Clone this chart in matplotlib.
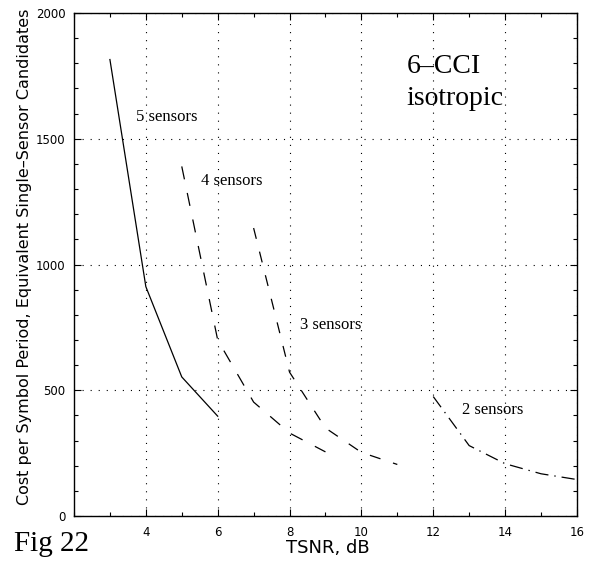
import matplotlib.pyplot as plt
from matplotlib.ticker import MultipleLocator

plt.rcParams['lines.scale_dashes'] = False

# TSNR (dB) and cost values
tsnr_5 = [3, 4, 5, 6]
cost_5 = [1815, 912, 553, 397]

tsnr_4 = [5, 6, 7, 8, 9]
cost_4 = [1390, 700, 453, 330, 255]

tsnr_3 = [7, 8, 9, 10, 11]
cost_3 = [1145, 572, 350, 253, 205]

tsnr_2 = [12, 13, 14, 15, 16]
cost_2 = [475, 280, 208, 168, 145]

xticks = [4, 6, 8, 10, 12, 14, 16]
yticks = [0, 500, 1000, 1500, 2000]

fig = plt.figure(figsize=(5.91, 5.70), dpi=100)
ax = fig.add_axes([0.1252, 0.0947, 0.851, 0.8825])

ax.plot(tsnr_5, cost_5, color="black", lw=0.9, ls="-")
ax.plot(tsnr_4, cost_4, color="black", lw=0.9, ls=(0, (9.5, 10)))
ax.plot(tsnr_3, cost_3, color="black", lw=0.9, ls=(0, (8, 9.5)))
ax.plot(tsnr_2, cost_2, color="black", lw=0.9, ls=(0, (9.5, 4.3, 1, 4.3)))

ax.set_xlim(2, 16)
ax.set_ylim(0, 2000)
ax.set_xticks(xticks)
ax.set_yticks(yticks)
ax.xaxis.set_minor_locator(MultipleLocator(1))
ax.yaxis.set_minor_locator(MultipleLocator(100))
ax.tick_params(which="both", direction="in", top=True, right=True,
               labelsize=8.5, colors="black")
ax.tick_params(which="major", length=5, width=0.8)
ax.tick_params(which="minor", length=3, width=0.8)
ax.tick_params(axis="x", pad=7)
ax.tick_params(axis="y", pad=6)
for s in ax.spines.values():
    s.set_linewidth(1.0)

ax.grid(True, which="major", color="black", lw=0.8, ls=(0, (0.8, 5)))

ax.set_xlabel("TSNR, dB", fontsize=13)
ax.set_ylabel("Cost per Symbol Period, Equivalent Single\u2013Sensor Candidates",
              fontsize=11.5)
ax.xaxis.set_label_coords(0.505, -0.046)
ax.yaxis.set_label_coords(-0.084, 0.515)

serif = "Liberation Serif"
ax.text(3.72, 1586, "5 sensors", family=serif, fontsize=12, va="center")
ax.text(5.53, 1332, "4 sensors", family=serif, fontsize=12, va="center")
ax.text(8.28, 759, "3 sensors", family=serif, fontsize=12, va="center")
ax.text(12.8, 421, "2 sensors", family=serif, fontsize=12, va="center")
ax.text(11.25, 1789, "6\u2013CCI", family=serif, fontsize=20, va="center")
ax.text(11.25, 1660, "isotropic", family=serif, fontsize=20, va="center")

fig.text(14 / 591, 1 - 544 / 570, "Fig 22", family=serif, fontsize=21,
         va="center", ha="left")

fig.savefig("out.png", dpi=100)
